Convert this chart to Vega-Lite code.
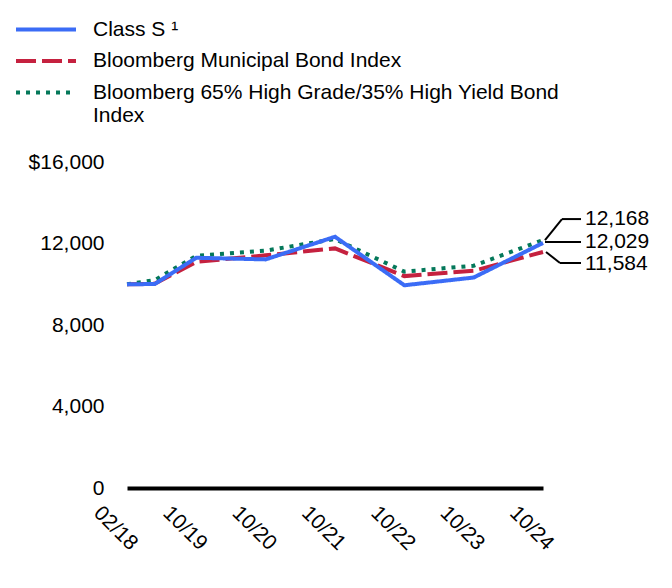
{
  "$schema": "https://vega.github.io/schema/vega-lite/v6.json",
  "width": 416,
  "height": 326,
  "autosize": "none",
  "padding": {"left": 127, "top": 162, "right": 129, "bottom": 100},
  "background": "white",
  "config": {
    "view": {"stroke": null},
    "font": "Liberation Sans",
    "axis": {"labelFont": "Liberation Sans", "labelFontSize": 21, "labelColor": "black"},
    "legend": {"labelFont": "Liberation Sans", "labelFontSize": 21, "labelColor": "black"}
  },
  "datasets": {
    "growth": [
      {"series": "Bloomberg Municipal Bond Index", "date": "2018-02-01", "value": 10000},
      {"series": "Bloomberg Municipal Bond Index", "date": "2018-10-01", "value": 10020},
      {"series": "Bloomberg Municipal Bond Index", "date": "2019-10-01", "value": 11100},
      {"series": "Bloomberg Municipal Bond Index", "date": "2020-10-01", "value": 11420},
      {"series": "Bloomberg Municipal Bond Index", "date": "2021-10-01", "value": 11760},
      {"series": "Bloomberg Municipal Bond Index", "date": "2022-10-01", "value": 10400},
      {"series": "Bloomberg Municipal Bond Index", "date": "2023-10-01", "value": 10660},
      {"series": "Bloomberg Municipal Bond Index", "date": "2024-10-01", "value": 11584},
      {"series": "Bloomberg 65% High Grade/35% High Yield Bond Index", "date": "2018-02-01", "value": 10000},
      {"series": "Bloomberg 65% High Grade/35% High Yield Bond Index", "date": "2018-10-01", "value": 10200},
      {"series": "Bloomberg 65% High Grade/35% High Yield Bond Index", "date": "2019-10-01", "value": 11400},
      {"series": "Bloomberg 65% High Grade/35% High Yield Bond Index", "date": "2020-10-01", "value": 11650},
      {"series": "Bloomberg 65% High Grade/35% High Yield Bond Index", "date": "2021-10-01", "value": 12220},
      {"series": "Bloomberg 65% High Grade/35% High Yield Bond Index", "date": "2022-10-01", "value": 10620},
      {"series": "Bloomberg 65% High Grade/35% High Yield Bond Index", "date": "2023-10-01", "value": 10910},
      {"series": "Bloomberg 65% High Grade/35% High Yield Bond Index", "date": "2024-10-01", "value": 12168},
      {"series": "Class S ¹", "date": "2018-02-01", "value": 10000},
      {"series": "Class S ¹", "date": "2018-10-01", "value": 10010},
      {"series": "Class S ¹", "date": "2019-10-01", "value": 11300},
      {"series": "Class S ¹", "date": "2020-10-01", "value": 11220},
      {"series": "Class S ¹", "date": "2021-10-01", "value": 12330},
      {"series": "Class S ¹", "date": "2022-10-01", "value": 9950},
      {"series": "Class S ¹", "date": "2023-10-01", "value": 10330},
      {"series": "Class S ¹", "date": "2024-10-01", "value": 12029}
    ]
  },
  "data": {"name": "growth"},
  "encoding": {
    "x": {
      "field": "date",
      "type": "temporal",
      "scale": {
        "type": "utc",
        "domainRaw": {"expr": "[utc(2018,1,1), utc(2019,9,1), utc(2020,9,1), utc(2021,9,1), utc(2022,9,1), utc(2023,9,1), utc(2024,9,1)]"},
        "range": [0, 69.33, 138.67, 208, 277.33, 346.67, 416]
      },
      "axis": {
        "title": null,
        "values": [
          {"year": 2018, "month": 2, "date": 1, "utc": true},
          {"year": 2019, "month": 10, "date": 1, "utc": true},
          {"year": 2020, "month": 10, "date": 1, "utc": true},
          {"year": 2021, "month": 10, "date": 1, "utc": true},
          {"year": 2022, "month": 10, "date": 1, "utc": true},
          {"year": 2023, "month": 10, "date": 1, "utc": true},
          {"year": 2024, "month": 10, "date": 1, "utc": true}
        ],
        "labelExpr": "utcFormat(datum.value, '%m/%y')",
        "labelAngle": 45,
        "labelAlign": "center",
        "labelBaseline": "middle",
        "labelPadding": 40,
        "labelOffset": -12,
        "labelOverlap": false,
        "ticks": false,
        "tickSize": 0,
        "grid": false,
        "domain": true,
        "domainColor": "black",
        "domainWidth": 4
      }
    },
    "y": {
      "field": "value",
      "type": "quantitative",
      "scale": {"domain": [0, 16000], "nice": false},
      "axis": {
        "title": null,
        "values": [0, 4000, 8000, 12000, 16000],
        "labelExpr": "datum.value == 16000 ? '$16,000' : format(datum.value, ',')",
        "ticks": false,
        "tickSize": 0,
        "domain": false,
        "grid": false,
        "labelPadding": 23
      }
    }
  },
  "layer": [
    {
      "mark": {"type": "line", "strokeWidth": 4, "strokeCap": "butt", "strokeJoin": "miter"},
      "encoding": {
        "color": {
          "field": "series",
          "type": "nominal",
          "title": null,
          "scale": {
            "domain": ["Class S ¹", "Bloomberg Municipal Bond Index", "Bloomberg 65% High Grade/35% High Yield Bond Index"],
            "range": ["#3B6CF6", "#C5213F", "#04785A"]
          },
          "legend": {
            "orient": "none",
            "legendX": -113,
            "legendY": -143,
            "direction": "vertical",
            "symbolType": "stroke",
            "symbolSize": 3600,
            "symbolStrokeWidth": 4,
            "clipHeight": 21,
            "labelOffset": 15,
            "labelLimit": 700,
            "rowPadding": 9.5,
            "labelExpr": "datum.label == 'Bloomberg 65% High Grade/35% High Yield Bond Index' ? ['Bloomberg 65% High Grade/35% High Yield Bond', 'Index'] : datum.label"
          }
        },
        "strokeDash": {
          "field": "series",
          "type": "nominal",
          "title": null,
          "scale": {
            "domain": ["Class S ¹", "Bloomberg Municipal Bond Index", "Bloomberg 65% High Grade/35% High Yield Bond Index"],
            "range": [[1, 0], [20, 6], [4, 6]]
          },
          "legend": {
            "orient": "none",
            "legendX": -113,
            "legendY": -143,
            "direction": "vertical",
            "symbolType": "stroke",
            "symbolSize": 3600,
            "symbolStrokeWidth": 4,
            "clipHeight": 21,
            "labelOffset": 15,
            "labelLimit": 700,
            "rowPadding": 9.5,
            "labelExpr": "datum.label == 'Bloomberg 65% High Grade/35% High Yield Bond Index' ? ['Bloomberg 65% High Grade/35% High Yield Bond', 'Index'] : datum.label"
          }
        }
      }
    },
    {
      "transform": [{"filter": "utcyear(datum.date) == 2024 && datum.series == 'Bloomberg 65% High Grade/35% High Yield Bond Index'"}],
      "mark": {"type": "rule", "color": "black", "strokeWidth": 2, "xOffset": 2, "x2Offset": 19, "y2Offset": -21},
      "encoding": {"x2": {"field": "date"}, "y2": {"field": "value"}}
    },
    {
      "transform": [{"filter": "utcyear(datum.date) == 2024 && datum.series == 'Bloomberg 65% High Grade/35% High Yield Bond Index'"}],
      "mark": {"type": "rule", "color": "black", "strokeWidth": 2, "xOffset": 19, "x2Offset": 38, "yOffset": -21, "y2Offset": -21},
      "encoding": {"x2": {"field": "date"}, "y2": {"field": "value"}}
    },
    {
      "transform": [{"filter": "utcyear(datum.date) == 2024 && datum.series == 'Class S ¹'"}],
      "mark": {"type": "rule", "color": "black", "strokeWidth": 2, "xOffset": 2, "x2Offset": 38, "yOffset": -1, "y2Offset": -1},
      "encoding": {"x2": {"field": "date"}, "y2": {"field": "value"}}
    },
    {
      "transform": [{"filter": "utcyear(datum.date) == 2024 && datum.series == 'Bloomberg Municipal Bond Index'"}],
      "mark": {"type": "rule", "color": "black", "strokeWidth": 2, "xOffset": 3, "x2Offset": 17, "y2Offset": 11},
      "encoding": {"x2": {"field": "date"}, "y2": {"field": "value"}}
    },
    {
      "transform": [{"filter": "utcyear(datum.date) == 2024 && datum.series == 'Bloomberg Municipal Bond Index'"}],
      "mark": {"type": "rule", "color": "black", "strokeWidth": 2, "xOffset": 17, "x2Offset": 38, "yOffset": 11, "y2Offset": 11},
      "encoding": {"x2": {"field": "date"}, "y2": {"field": "value"}}
    },
    {
      "transform": [{"filter": "utcyear(datum.date) == 2024 && datum.series == 'Bloomberg 65% High Grade/35% High Yield Bond Index'"}],
      "mark": {"type": "text", "align": "left", "baseline": "middle", "dx": 42, "dy": -21, "fontSize": 21, "font": "Liberation Sans", "color": "black"},
      "encoding": {"text": {"field": "value", "format": ","}}
    },
    {
      "transform": [{"filter": "utcyear(datum.date) == 2024 && datum.series == 'Class S ¹'"}],
      "mark": {"type": "text", "align": "left", "baseline": "middle", "dx": 42, "dy": -1, "fontSize": 21, "font": "Liberation Sans", "color": "black"},
      "encoding": {"text": {"field": "value", "format": ","}}
    },
    {
      "transform": [{"filter": "utcyear(datum.date) == 2024 && datum.series == 'Bloomberg Municipal Bond Index'"}],
      "mark": {"type": "text", "align": "left", "baseline": "middle", "dx": 42, "dy": 12, "fontSize": 21, "font": "Liberation Sans", "color": "black"},
      "encoding": {"text": {"field": "value", "format": ","}}
    }
  ]
}
